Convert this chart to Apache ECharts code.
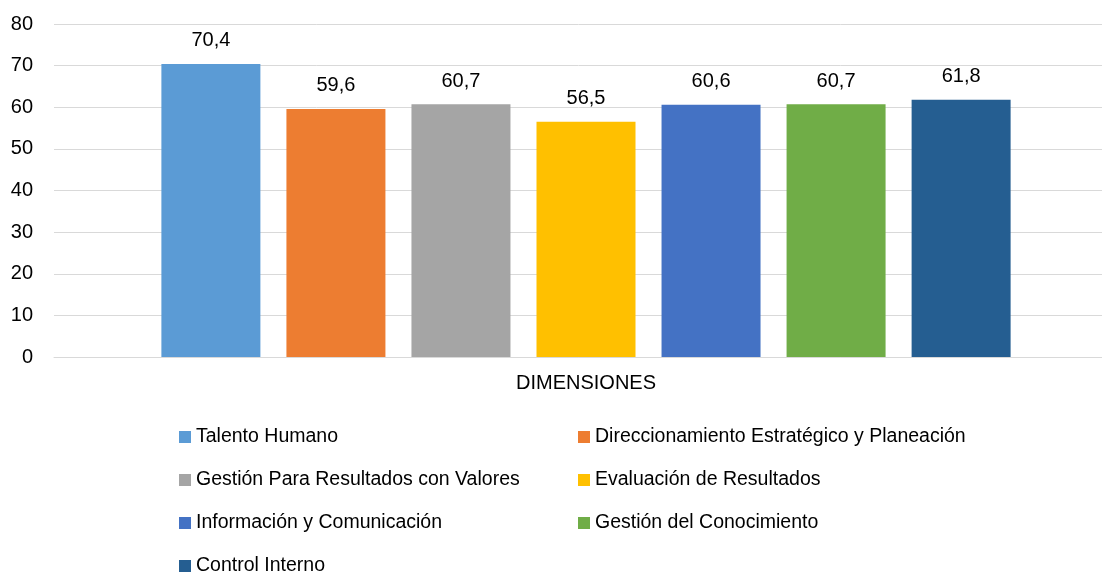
<!DOCTYPE html>
<html>
<head>
<meta charset="utf-8">
<script src="https://cdn.jsdelivr.net/npm/echarts@6/dist/echarts.min.js"></script>
<style>
  html, body { margin: 0; padding: 0; background: #fff; }
  #chart { width: 1102px; height: 575px; }
</style>
</head>
<body>
<div id="chart"></div>
<script>
// Puntaje por dimensión (escala 0–80)
const categories = ['DIMENSIONES'];
const seriesNames = [
  'Talento Humano',
  'Direccionamiento Estratégico y Planeación',
  'Gestión Para Resultados con Valores',
  'Evaluación de Resultados',
  'Información y Comunicación',
  'Gestión del Conocimiento',
  'Control Interno'
];
const seriesValues = [70.4, 59.6, 60.7, 56.5, 60.6, 60.7, 61.8];
const seriesColors = ['#5B9BD5', '#ED7D31', '#A5A5A5', '#FFC000', '#4472C4', '#70AD47', '#255E91'];
const yTicks = { min: 0, max: 80, interval: 10 };

const FONT = '"Liberation Sans", Arial, sans-serif';

const chart = echarts.init(document.getElementById('chart'), null, { renderer: 'canvas' });

const series = seriesNames.map((name, i) => ({
  name: name,
  type: 'bar',
  data: [seriesValues[i]],
  barWidth: 99,
  barGap: '26.3%',
  itemStyle: { color: seriesColors[i] },
  label: {
    show: true,
    position: 'top',
    distance: 13,
    color: '#000',
    fontFamily: FONT,
    fontSize: 20,
    formatter: p => p.value.toFixed(1).replace('.', ',')
  }
}));

// Leyenda en dos columnas, un bloque por elemento (filas cada 43 px)
const legends = seriesNames.map((name, i) => ({
  orient: 'horizontal',
  left: i % 2 === 0 ? 179 : 578,
  top: 427 + Math.floor(i / 2) * 43,
  padding: 0,
  itemWidth: 12,
  itemHeight: 12,
  icon: 'rect',
  textStyle: { fontFamily: FONT, fontSize: 19.5, color: '#000', lineHeight: 20 },
  selectedMode: false,
  data: [name]
}));

chart.setOption({
  animation: false,
  textStyle: { fontFamily: FONT },
  // el área de trazado continúa más allá del borde derecho
  grid: { left: 54, right: -16, top: 24, bottom: 218, containLabel: false, outerBoundsMode: 'none' },
  legend: legends,
  xAxis: {
    type: 'category',
    data: categories,
    axisLine: { show: true, lineStyle: { color: '#d9d9d9', width: 1 } },
    axisTick: { show: false },
    axisLabel: { color: '#000', fontFamily: FONT, fontSize: 20, margin: 16 }
  },
  yAxis: {
    type: 'value',
    min: yTicks.min,
    max: yTicks.max,
    interval: yTicks.interval,
    axisLine: { show: false },
    axisTick: { show: false },
    splitLine: { lineStyle: { color: '#d9d9d9', width: 1 } },
    axisLabel: { color: '#000', fontFamily: FONT, fontSize: 20, margin: 21 }
  },
  series: series
});
</script>
</body>
</html>
